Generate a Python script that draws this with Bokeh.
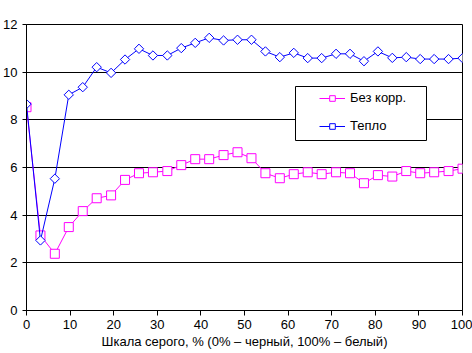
import numpy as np
from bokeh.plotting import figure
from bokeh.models import Range1d, Legend, LegendItem, Label, BoxAnnotation, FixedTicker
from bokeh.embed import file_html
from bokeh.resources import INLINE

gray_pct = [0, 3.2, 6.5, 9.7, 12.9, 16.1, 19.4, 22.6, 25.8, 29.0, 32.3, 35.5, 38.7,
            41.9, 45.2, 48.4, 51.6, 54.8, 58.1, 61.3, 64.5, 67.7, 71.0, 74.2, 77.4,
            80.6, 83.9, 87.1, 90.3, 93.5, 96.8, 100]
bez_korr = [8.53, 3.15, 2.38, 3.50, 4.17, 4.71, 4.83, 5.48, 5.76, 5.80, 5.85, 6.10, 6.35,
            6.35, 6.52, 6.64, 6.39, 5.76, 5.55, 5.72, 5.80, 5.72, 5.80, 5.76, 5.34,
            5.68, 5.62, 5.85, 5.76, 5.80, 5.85, 5.95]
teplo = [8.66, 2.94, 5.53, 9.05, 9.37, 10.21, 9.97, 10.53, 10.98, 10.70, 10.70, 11.01, 11.23,
         11.44, 11.33, 11.36, 11.36, 10.87, 10.63, 10.81, 10.59, 10.59, 10.77, 10.77, 10.46,
         10.87, 10.60, 10.63, 10.55, 10.55, 10.55, 10.59]
x_ticks = [0, 10, 20, 30, 40, 50, 60, 70, 80, 90, 100]
y_ticks = [0, 2, 4, 6, 8, 10, 12]
series_names = ["Без корр.", "Тепло"]
y_title = "ΔE (CIEDE2000)"
x_title = "Шкала серого, % (0% – черный, 100% – белый)"

FONT = "Liberation Sans"

p = figure(width=472, height=353, output_backend="svg", toolbar_location=None,
           x_range=Range1d(0, 100), y_range=Range1d(0, 12),
           min_border_left=23, min_border_right=10, min_border_top=24, min_border_bottom=43)
p.background_fill_color = "white"
p.border_fill_color = "white"
p.outline_line_color = "black"
p.outline_line_width = 1

p.xgrid.grid_line_color = None
p.ygrid.grid_line_color = "black"
p.ygrid.grid_line_width = 1
p.ygrid.ticker = FixedTicker(ticks=y_ticks)

for ax in (p.xaxis[0], p.yaxis[0]):
    ax.axis_line_color = "black"
    ax.major_tick_line_color = "black"
    ax.minor_tick_line_color = None
    ax.major_tick_in = 0
    ax.major_label_text_font = FONT
    ax.major_label_text_font_size = "13px"
    ax.major_label_text_color = "black"
    ax.axis_label_text_font = FONT
    ax.axis_label_text_font_size = "13px"
    ax.axis_label_text_font_style = "normal"
    ax.axis_label_text_color = "black"

p.xaxis.ticker = FixedTicker(ticks=x_ticks)
p.yaxis.ticker = FixedTicker(ticks=y_ticks)
p.xaxis.major_tick_out = 5
p.yaxis.major_tick_out = 4
p.xaxis.major_label_standoff = 4
p.yaxis.major_label_standoff = 5
p.xaxis.axis_label = x_title
p.xaxis.axis_label_standoff = 2

r1l = p.line(gray_pct, bez_korr, line_color="#FF00FF", line_width=1)
r1m = p.scatter(gray_pct, bez_korr, marker="square", size=9, fill_color="white",
                line_color="#FF00FF", line_width=1)
r2l = p.line(gray_pct, teplo, line_color="#0000FF", line_width=1)
r2m = p.scatter(gray_pct, teplo, marker="square", angle=np.pi / 4, size=6.6,
                fill_color="white", line_color="#0000FF", line_width=1)

box = BoxAnnotation(left=269, right=400, top=224, bottom=170,
                    left_units="screen", right_units="screen",
                    top_units="screen", bottom_units="screen",
                    fill_color="white", fill_alpha=1.0,
                    line_color="black", line_width=1, line_alpha=1.0)
p.add_layout(box)

legend = Legend(items=[LegendItem(label=series_names[0], renderers=[r1l, r1m]),
                       LegendItem(label=series_names[1], renderers=[r2l, r2m])],
                location=(287, 171), margin=0, padding=6, spacing=13,
                glyph_width=26, glyph_height=14, label_height=14, label_standoff=5,
                label_text_font=FONT, label_text_font_size="13px", label_text_color="black",
                background_fill_alpha=0, border_line_alpha=0)
p.add_layout(legend, "center")

title = Label(x=-23, y=302, x_units="screen", y_units="screen", text=y_title,
              text_font=FONT, text_font_size="13px", text_color="black",
              text_baseline="middle", text_align="left")
p.add_layout(title)

open("out.html", "w").write(file_html(p, INLINE))
